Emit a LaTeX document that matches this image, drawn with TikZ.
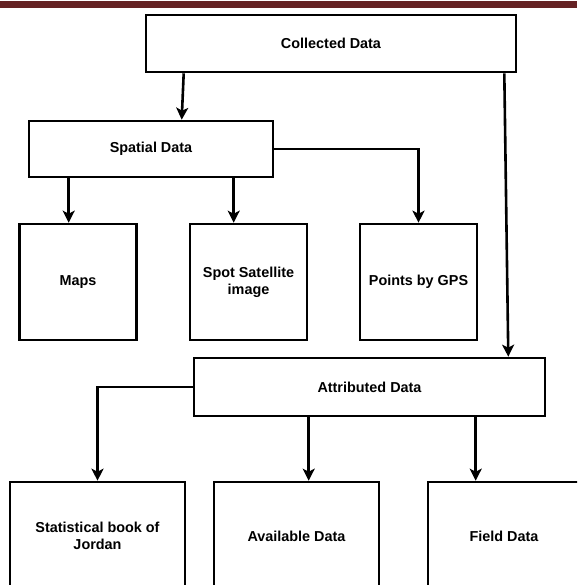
\documentclass[tikz,border=0pt]{standalone}
\usepackage{fontspec}
\setmainfont{Liberation Sans}
\usetikzlibrary{arrows.meta}
\definecolor{barred}{RGB}{101,34,36}
\tikzset{
  box/.style={draw=black, line width=2.6pt, fill=white, inner sep=2pt,
    font=\fontsize{14.4}{17}\selectfont\bfseries, align=center},
  arr/.style={line width=2.6pt, -{Stealth[length=12pt,width=12pt,inset=3pt]}},
  ln/.style={line width=2.6pt}
}
\begin{document}
\begin{tikzpicture}[x=1pt,y=-1pt]
\useasboundingbox (0,0) rectangle (577,585);
\clip (0,0) rectangle (577,585);
\fill[barred] (0,1) rectangle (577,8);
\node[box, minimum width=370pt, minimum height=57pt] (coll) at (331,43.5) {Collected Data};
\node[box, minimum width=244pt, minimum height=56pt] (spat) at (151,149) {Spatial Data};
\node[box, minimum width=117pt, minimum height=116pt] (maps) at (78,282) {Maps};
\node[box, minimum width=117pt, minimum height=116pt] (spot) at (248.5,282) {Spot Satellite\\image};
\node[box, minimum width=117pt, minimum height=116pt] (gps) at (418.5,282) {Points by GPS};
\node[box, minimum width=351pt, minimum height=58pt] (attr) at (369.5,387) {Attributed Data};
\node[box, minimum width=175pt, minimum height=108pt] (stat) at (97.5,536) {Statistical book of\\Jordan};
\node[box, minimum width=165pt, minimum height=108pt] (avail) at (296.5,536) {Available Data};
\node[box, minimum width=152pt, minimum height=108pt] (field) at (504,536) {Field Data};
\draw[arr] ([xshift=39pt]coll.south west) -- ([xshift=154pt]spat.north west);
\draw[arr] ([xshift=41pt]spat.south west) -- ([xshift=50.5pt]maps.north west);
\draw[arr] ([xshift=206pt]spat.south west) -- ([xshift=45pt]spot.north west);
\draw[arr] (spat.east) -| (gps.north);
\draw[arr] ([xshift=-13pt]coll.south east) -- ([xshift=-38pt]attr.north east);
\draw[arr] (attr.west) -| (stat.north);
\draw[arr] ([xshift=116pt]attr.south west) -- ([xshift=96pt]avail.north west);
\draw[arr] ([xshift=283pt]attr.south west) -- ([xshift=49pt]field.north west);
\end{tikzpicture}
\end{document}
